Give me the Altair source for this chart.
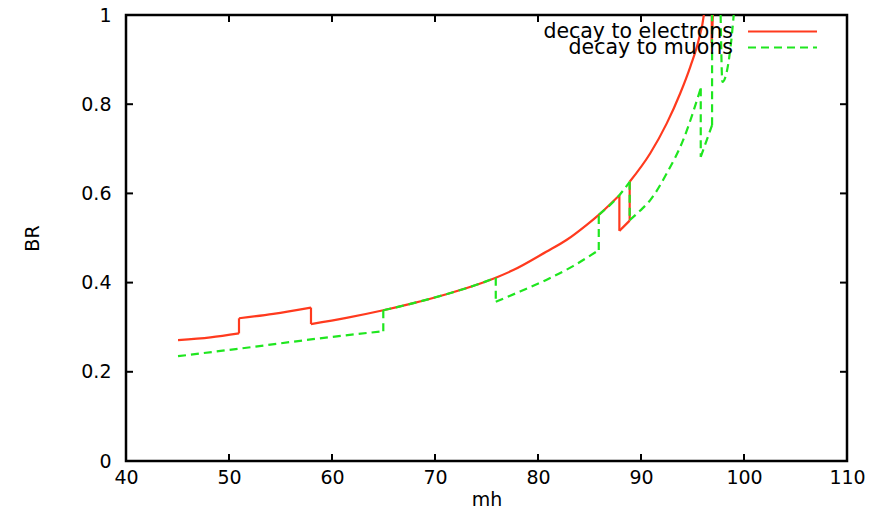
import altair as alt
import pandas as pd

# ---- data ----
mh_electrons = [45.05, 48.2, 50.97, 50.97, 54.3, 57.96, 57.96, 61.4, 64.98, 67.9,
                71.1, 74.4, 75.9, 77.6, 80.8, 82.8, 84.7, 85.9, 87.9, 87.9,
                88.9, 88.9, 90.9, 92.5, 93.8, 94.8, 95.6, 96.1, 96.5, 96.87,
                96.87, 97.15]
br_electrons = [0.271, 0.277, 0.286, 0.320, 0.330, 0.344, 0.307, 0.321, 0.338, 0.354,
                0.374, 0.398, 0.411, 0.428, 0.469, 0.496, 0.529, 0.552, 0.596, 0.516,
                0.539, 0.626, 0.690, 0.757, 0.824, 0.885, 0.944, 1.0, 1.1, 1.1,
                0.937, 1.1]

mh_muons = [45.05, 52.4, 58.8, 64.98, 64.98, 67.9, 71.1, 74.4, 75.9, 75.9,
            78.25, 80.8, 83.4, 85.9, 85.9, 87.9, 88.9, 88.9, 89.9, 90.9,
            92.5, 94.1, 95.8, 95.8, 96.9, 96.9, 97.6, 97.9, 99.0, 99.2]
br_muons = [0.235, 0.256, 0.275, 0.291, 0.338, 0.354, 0.374, 0.398, 0.411, 0.357,
            0.380, 0.406, 0.437, 0.473, 0.552, 0.596, 0.626, 0.540, 0.561, 0.585,
            0.645, 0.720, 0.836, 0.682, 0.753, 1.1, 1.1, 0.850, 1.0, 1.06]

x_ticks = [40, 50, 60, 70, 80, 90, 100, 110]
y_ticks = [0, 0.2, 0.4, 0.6, 0.8, 1.0]
legend_labels = ["decay to electrons", "decay to muons"]

RED = "#ff3a1e"
GREEN = "#1fe61f"
FONT = "DejaVu Sans"
W, H = 721, 446
FS = 19
LW = 2.2
DASH = [8, 5]


def split(xs, ys):
    """Split a series into smooth pieces at vertical jumps (repeated x)."""
    pts, jumps = [], []
    seg = 0
    for k, (x, y) in enumerate(zip(xs, ys)):
        if k > 0 and x == xs[k - 1]:
            jumps.append({"mh": x, "y1": ys[k - 1], "y2": y})
            seg += 1
        pts.append({"mh": x, "BR": y, "seg": seg, "i": k})
    return pd.DataFrame(pts), pd.DataFrame(jumps)


pts_e, jmp_e = split(mh_electrons, br_electrons)
pts_m, jmp_m = split(mh_muons, br_muons)

xscale = alt.Scale(domain=[40, 110], nice=False, zero=False)
yscale = alt.Scale(domain=[0, 1], nice=False)

xaxis = alt.Axis(values=x_ticks, ticks=False, domain=False, grid=False,
                 labelFontSize=FS, labelFont=FONT, labelColor="black",
                 labelPadding=7, title="mh", titleFontSize=FS, titleFont=FONT,
                 titleFontWeight="normal", titleColor="black", titlePadding=3,
                 labelFlush=False)
yaxis = alt.Axis(values=y_ticks, ticks=False, domain=False, grid=False,
                 format=".1~f", labelFontSize=FS, labelFont=FONT,
                 labelColor="black", labelPadding=15, title="BR",
                 titleFontSize=FS, titleFont=FONT, titleFontWeight="normal",
                 titleColor="black", titlePadding=38, labelFlush=False)

red_line = alt.Chart(pts_e).mark_line(color=RED, strokeWidth=LW, clip=True,
                                      interpolate="monotone").encode(
    x=alt.X("mh:Q", scale=xscale, axis=xaxis),
    y=alt.Y("BR:Q", scale=yscale, axis=yaxis),
    detail="seg:N",
    order=alt.Order("i:Q"),
)
red_jump = alt.Chart(jmp_e).mark_rule(color=RED, strokeWidth=LW, clip=True).encode(
    x=alt.X("mh:Q", scale=xscale),
    y=alt.Y("y1:Q", scale=yscale),
    y2="y2:Q",
)
green_line = alt.Chart(pts_m).mark_line(color=GREEN, strokeWidth=LW,
                                        strokeDash=DASH, clip=True,
                                        interpolate="monotone").encode(
    x=alt.X("mh:Q", scale=xscale),
    y=alt.Y("BR:Q", scale=yscale),
    detail="seg:N",
    order=alt.Order("i:Q"),
)
green_jump = alt.Chart(jmp_m).mark_rule(color=GREEN, strokeWidth=LW,
                                        strokeDash=DASH, clip=True).encode(
    x=alt.X("mh:Q", scale=xscale),
    y=alt.Y("y1:Q", scale=yscale),
    y2="y2:Q",
)

TL = 7
df_xt = pd.DataFrame({"t": x_ticks})
df_yt = pd.DataFrame({"t": y_ticks})
xt_bottom = alt.Chart(df_xt).mark_rule(color="black", strokeWidth=2).encode(
    x=alt.X("t:Q", scale=xscale), y=alt.value(H), y2=alt.value(H - TL))
xt_top = alt.Chart(df_xt).mark_rule(color="black", strokeWidth=2).encode(
    x=alt.X("t:Q", scale=xscale), y=alt.value(0), y2=alt.value(TL))
yt_left = alt.Chart(df_yt).mark_rule(color="black", strokeWidth=2).encode(
    y=alt.Y("t:Q", scale=yscale), x=alt.value(0), x2=alt.value(TL))
yt_right = alt.Chart(df_yt).mark_rule(color="black", strokeWidth=2).encode(
    y=alt.Y("t:Q", scale=yscale), x=alt.value(W), x2=alt.value(W - TL))

# legend (gnuplot style: text right-aligned, sample line to the right)
leg_text_x = 607
leg_line_x1, leg_line_x2 = 622, 691
leg_y = [16.5, 32.5]
leg_layers = []
for lab, yy, col, dash in zip(legend_labels, leg_y, [RED, GREEN], [None, DASH]):
    d = pd.DataFrame({"label": [lab]})
    leg_layers.append(
        alt.Chart(d).mark_text(align="right", baseline="middle", font=FONT,
                               fontSize=20.5, color="black").encode(
            text="label:N", x=alt.value(leg_text_x), y=alt.value(yy)))
    kw = dict(color=col, strokeWidth=LW)
    if dash:
        kw["strokeDash"] = dash
    leg_layers.append(
        alt.Chart(d).mark_rule(**kw).encode(
            x=alt.value(leg_line_x1), x2=alt.value(leg_line_x2), y=alt.value(yy)))

chart = alt.layer(red_line, red_jump, green_line, green_jump,
                  xt_bottom, xt_top, yt_left, yt_right,
                  *leg_layers).properties(
    width=W, height=H,
    autosize=alt.AutoSizeParams(type="none"),
    padding={"left": 118, "top": 7, "right": 25, "bottom": 50},
    background="white",
).configure_view(stroke="black", strokeWidth=2.5)

chart.save("out.html", embed_options={"renderer": "svg", "actions": False})
